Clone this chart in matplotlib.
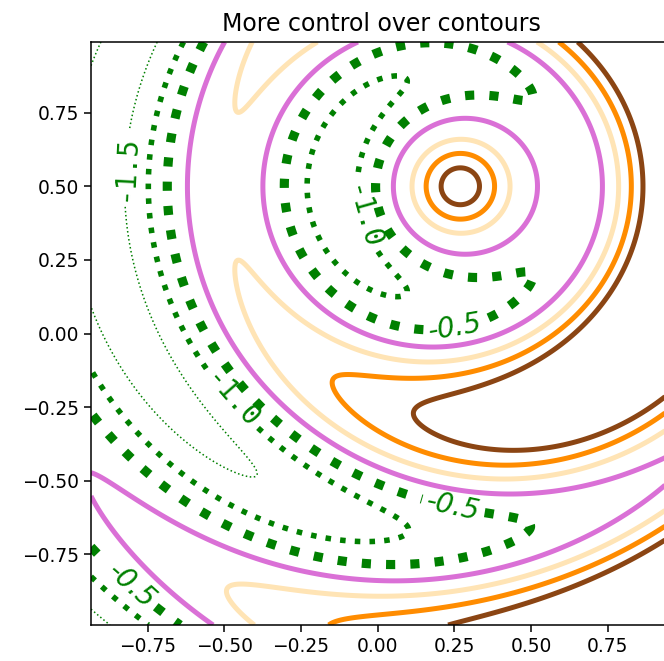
import numpy as np
import matplotlib.pyplot as plt

# contour levels and the style of each one
levels = [-1.5, -1.0, -0.5, 0.0, 0.5, 1.0, 1.5]
line_colors = ['green', 'green', 'green', 'orchid', 'moccasin', 'darkorange', 'saddlebrown']
line_widths = [1.1, 4.0, 6.6, 3.6, 3.6, 3.6, 3.6]
line_styles = [':', ':', ':', '-', '-', '-', '-']

# rings around a peak, tilted by a ramp along x
center_x, center_y = 0.267, 0.5
ring_amp, ring_tilt, ring_k, ring_grow = 1.29, 0.37, 8.0, 0.01
offset = 0.5
ramp, ramp_len, ramp_radius = 1.65, 1.0, 0.28
dip_depth, dip_r, dip_width = 0.38, 0.15, 0.085

# label positions per level, and the font used for each
label_pos = {
    -1.5: [(-0.81, 0.56)],
    -1.0: [(-0.04, 0.40), (-0.47, -0.22)],
    -0.5: [(0.25, 0.04), (0.25, -0.57), (-0.78, -0.83)],
}
label_font = {
    -1.5: {'font.family': 'DejaVu Sans Mono'},
    -1.0: {'font.family': 'DejaVu Sans Mono'},
    -0.5: {'font.family': 'DejaVu Sans', 'font.style': 'italic'},
}

xlim = (-0.935, 0.96)
ylim = (-0.99, 0.99)

x = np.linspace(xlim[0], xlim[1], 500)
y = np.linspace(ylim[0], ylim[1], 500)
X, Y = np.meshgrid(x, y)
dx = X - center_x
dy = Y - center_y
R = np.hypot(dx, dy)
wave = np.cos(ring_k * R)
Z = ((ring_amp + ring_tilt * dx) * wave + offset
     + ring_grow * R ** 2 * (1 + wave)
     + ramp * ramp_len * np.tanh(dx / ramp_len) * (1 - np.exp(-(R / ramp_radius) ** 4))
     - dip_depth * np.exp(-((R - dip_r) / dip_width) ** 2))

fig = plt.figure(figsize=(6.64, 6.61), dpi=100)
ax = fig.add_axes([91 / 664, 36 / 661, 581 / 664, 583 / 661])

# one contour set per level so each can be labelled on its own
sets = {}
for lev, c, lw, ls in zip(levels, line_colors, line_widths, line_styles):
    sets[lev] = ax.contour(X, Y, Z, levels=[lev], colors=[c],
                           linewidths=[lw], linestyles=[ls])

for lev, pos in label_pos.items():
    with plt.rc_context(label_font[lev]):
        ax.clabel(sets[lev], inline=True, fmt='%1.1f', fontsize=20, manual=pos)

ax.set_xlim(*xlim)
ax.set_ylim(*ylim)
ax.set_xticks([-0.75, -0.5, -0.25, 0, 0.25, 0.5, 0.75])
ax.set_yticks([-0.75, -0.5, -0.25, 0, 0.25, 0.5, 0.75])
ax.tick_params(labelsize=13.4, length=4.8, width=1.1)
for sp in ax.spines.values():
    sp.set_linewidth(1.1)
ax.set_title('More control over contours', fontsize=17, pad=8)

fig.savefig('out.png', dpi=100)
